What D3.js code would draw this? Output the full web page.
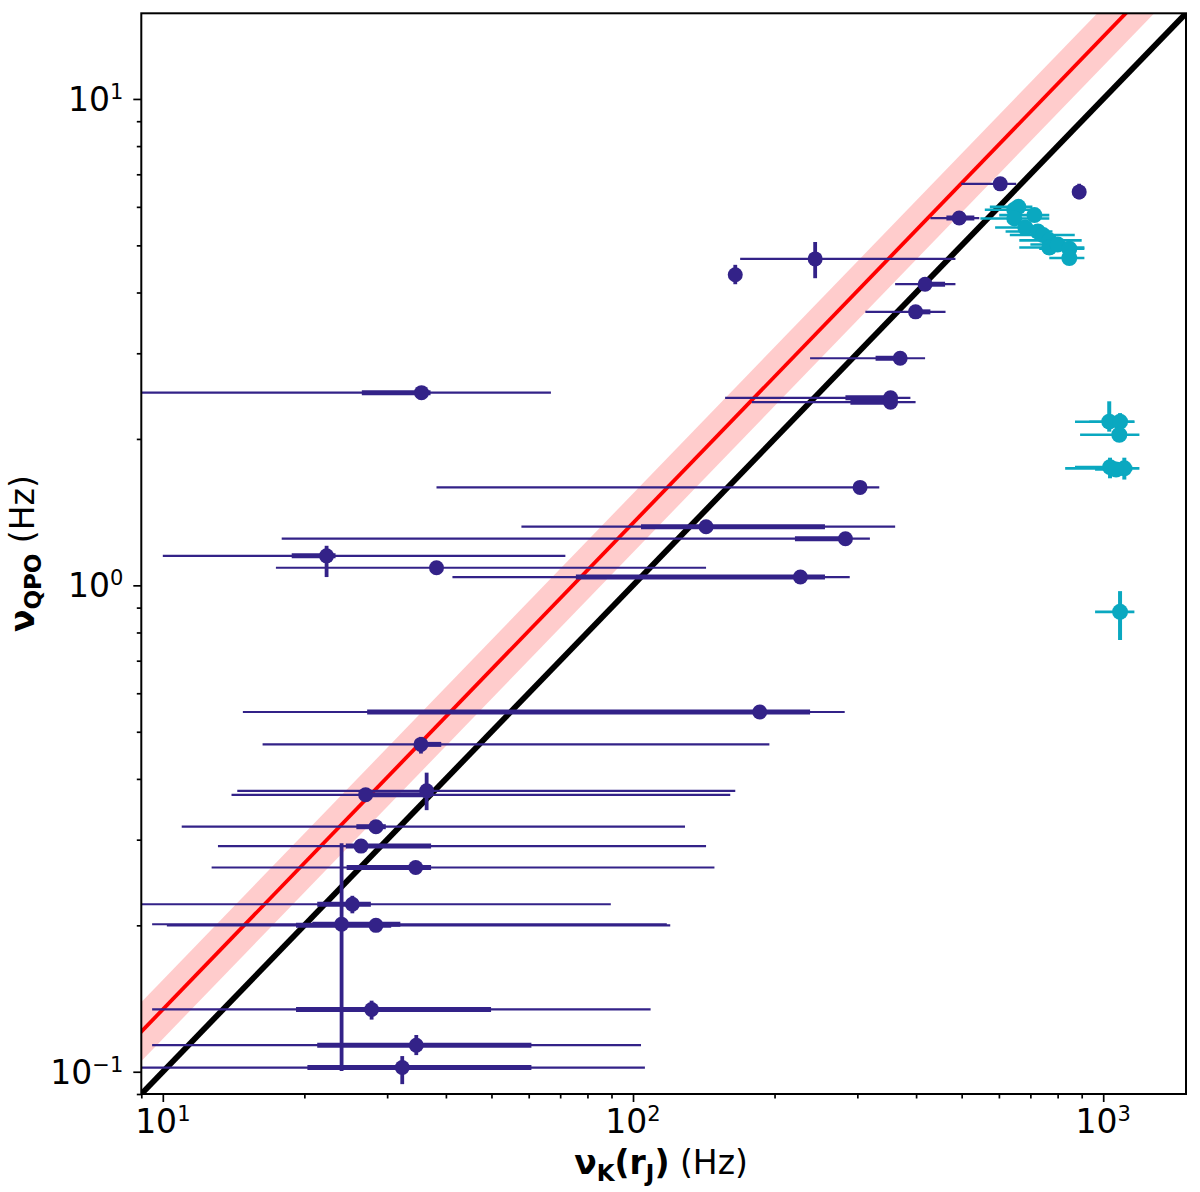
<!DOCTYPE html>
<html>
<head>
<meta charset="utf-8">
<script src="https://cdn.jsdelivr.net/npm/d3@7"></script>
<style>
  html,body{margin:0;padding:0;background:#fff;}
  text{font-family:"DejaVu Sans",sans-serif;}
</style>
</head>
<body>
<svg id="chart" width="1200" height="1192"></svg>
<script>
// ---------- DATA ----------
// Dark (navy) series
const darkX      = [604, 889, 494, 244, 165, 418, 399, 370, 353, 353, 35.5, 304, 143, 283, 22.3, 38.2, 227, 186, 35.4, 36.4, 27.0, 28.4, 26.4, 34.5, 25.3, 24.0, 28.4, 27.8, 34.6, 32.3];
const darkY      = [6.69, 6.44, 5.69, 4.69, 4.35, 4.16, 3.65, 2.93, 2.43, 2.38, 2.49, 1.59, 1.32, 1.247, 1.15, 1.087, 1.04, 0.549, 0.471, 0.378, 0.371, 0.319, 0.291, 0.263, 0.221, 0.201, 0.200, 0.1343, 0.1134, 0.102];
const darkXLo    = [499, null, 429, 169, null, 361, 312, 238, 157, 179, 8.5, 38.2, 57.9, 17.9, 10.0, 17.4, 41.3, 14.8, 16.3, 14.4, 14.0, 10.97, 13.1, 12.7, 8.5, 9.49, 10.2, 9.49, 9.49, 8.5];
const darkXHi    = [653, null, 545, 485, null, 485, 462, 418, 389, 399, 66.9, 334, 361, 319, 71.8, 143, 289, 282, 195, 165, 161, 129, 143, 149, 89.7, 118, 120, 109, 104, 106];
const darkXLoSys = [null, null, 464, null, null, 418, 399, 328, 283, 290, 26.5, null, 104, 221, 18.8, null, 75.6, 27.2, 34.5, null, 27.0, 25.8, 24.5, 24.6, 21.3, 20.8, 19.2, 19.2, 21.3, 20.3];
const darkXHiSys = [null, null, 532, null, null, 461, 429, 370, 353, 353, 37.1, null, 256, 283, 23.3, null, 256, 238, 39.1, null, 36.4, 29.8, 37.2, 37.2, 27.7, 32.0, 30.6, 49.9, 60.8, 60.8];
const darkYLo    = [null, 6.22, null, 4.28, 4.16, null, null, null, null, null, null, null, null, null, 1.04, null, null, null, 0.451, 0.345, null, null, null, null, 0.2117, 0.1004, null, 0.128, 0.1082, 0.0943];
const darkYHi    = [null, 6.69, null, 5.08, 4.56, null, null, null, null, null, null, null, null, null, 1.206, null, null, null, 0.488, 0.412, null, null, null, null, 0.230, 0.295, null, 0.140, 0.119, 0.1077];

// Cyan series
const cyanX   = [660, 647, 714, 647, 683, 726, 745, 768, 768, 800, 847, 847, 1030, 1086, 1082, 1034, 1109, 1065, 1086];
const cyanY   = [6.00, 5.92, 5.77, 5.68, 5.44, 5.34, 5.25, 5.12, 4.95, 5.02, 4.92, 4.71, 2.17, 2.17, 2.04, 1.75, 1.74, 1.73, 0.882];
const cyanXLo = [574, 560, 601, 548, 589, 620, 633, 663, 663, 700, 731, 768, 871, 934, 893, 871, 830, 961, 961];
const cyanXHi = [707, 700, 768, 768, 720, 780, 870, 900, 912, 850, 912, 912, 1165, 1165, 1194, 1153, 1194, 1153, 1165];
const cyanYLo = [5.86, 5.78, 5.64, 5.55, 5.32, 5.22, 5.13, 5.00, 4.84, 4.90, 4.81, 4.61, 2.07, 2.09, 1.99, 1.66, 1.65, 1.69, 0.772];
const cyanYHi = [6.14, 6.06, 5.90, 5.81, 5.56, 5.46, 5.37, 5.24, 5.06, 5.14, 5.03, 4.81, 2.39, 2.26, 2.09, 1.83, 1.83, 1.77, 0.973];

// Reference relations
const oneToOneFactor = 0.01;      // nu_QPO = nu_K / 100 (black)
const fitFactor = 0.01343;        // red line
const bandLo = 0.87, bandHi = 1.15; // pink band multipliers

// Axes
const xDomain = [9, 1500];
const yDomain = [0.09, 15];
const xMajor = [10, 100, 1000];
const xMinor = [9, 20, 30, 40, 50, 60, 70, 80, 90, 200, 300, 400, 500, 600, 700, 800, 900];
const yMajor = [0.1, 1, 10];
const yMinor = [0.09, 0.2, 0.3, 0.4, 0.5, 0.6, 0.7, 0.8, 0.9, 2, 3, 4, 5, 6, 7, 8, 9];
const xTickExp = ["1", "2", "3"];
const yTickExp = ["\u22121", "0", "1"];

// ---------- DRAW ----------
const L = 141.3, R = 1186, T = 13.3, B = 1094;
const navy = "#332288", cyan = "#0aa8c0";
const svg = d3.select("#chart");
const x = d3.scaleLog().domain(xDomain).range([L, R]);
const y = d3.scaleLog().domain(yDomain).range([B, T]);

svg.append("defs").append("clipPath").attr("id", "clip")
  .append("rect").attr("x", L).attr("y", T).attr("width", R - L).attr("height", B - T);

const plot = svg.append("g").attr("clip-path", "url(#clip)");

// band
const xs = [xDomain[0] * 0.8, xDomain[1] * 1.2];
const bandPts = [
  [x(xs[0]), y(xs[0] * fitFactor * bandHi)],
  [x(xs[1]), y(xs[1] * fitFactor * bandHi)],
  [x(xs[1]), y(xs[1] * fitFactor * bandLo)],
  [x(xs[0]), y(xs[0] * fitFactor * bandLo)]
];
plot.append("path").attr("d", d3.line()(bandPts) + "Z").attr("fill", "#ffcccc");
plot.append("path").attr("d", d3.line()(xs.map(v => [x(v), y(v * fitFactor)])))
  .attr("stroke", "#ff0000").attr("stroke-width", 3.8).attr("fill", "none");
plot.append("path").attr("d", d3.line()(xs.map(v => [x(v), y(v * oneToOneFactor)])))
  .attr("stroke", "#000").attr("stroke-width", 5.8).attr("fill", "none");

// navy error bars
const dIdx = d3.range(darkX.length);
plot.append("g").selectAll("line").data(dIdx.filter(i => darkXLo[i] != null)).join("line")
  .attr("x1", i => x(darkXLo[i])).attr("x2", i => x(darkXHi[i]))
  .attr("y1", i => y(darkY[i])).attr("y2", i => y(darkY[i]))
  .attr("stroke", navy).attr("stroke-width", 2.2);
plot.append("g").selectAll("line").data(dIdx.filter(i => darkXLoSys[i] != null)).join("line")
  .attr("x1", i => x(darkXLoSys[i])).attr("x2", i => x(darkXHiSys[i]))
  .attr("y1", i => y(darkY[i])).attr("y2", i => y(darkY[i]))
  .attr("stroke", navy).attr("stroke-width", 5);
plot.append("g").selectAll("line").data(dIdx.filter(i => darkYLo[i] != null)).join("line")
  .attr("x1", i => x(darkX[i])).attr("x2", i => x(darkX[i]))
  .attr("y1", i => y(darkYLo[i])).attr("y2", i => y(darkYHi[i]))
  .attr("stroke", navy).attr("stroke-width", 3.8);
plot.append("g").selectAll("circle").data(dIdx).join("circle")
  .attr("cx", i => x(darkX[i])).attr("cy", i => y(darkY[i])).attr("r", 7.5)
  .attr("fill", navy);

// cyan
const cIdx = d3.range(cyanX.length);
plot.append("g").selectAll("line").data(cIdx).join("line")
  .attr("x1", i => x(cyanXLo[i])).attr("x2", i => x(cyanXHi[i]))
  .attr("y1", i => y(cyanY[i])).attr("y2", i => y(cyanY[i]))
  .attr("stroke", cyan).attr("stroke-width", 2.6);
plot.append("g").selectAll("line").data(cIdx).join("line")
  .attr("x1", i => x(cyanX[i])).attr("x2", i => x(cyanX[i]))
  .attr("y1", i => y(cyanYLo[i])).attr("y2", i => y(cyanYHi[i]))
  .attr("stroke", cyan).attr("stroke-width", 4);
plot.append("g").selectAll("circle").data(cIdx).join("circle")
  .attr("cx", i => x(cyanX[i])).attr("cy", i => y(cyanY[i])).attr("r", 8)
  .attr("fill", cyan);

// axes ticks
function ticks(axisGen, vals, size, transform) {
  const g = svg.append("g").attr("transform", transform)
    .call(axisGen.tickValues(vals).tickSize(size).tickFormat(""));
  g.select(".domain").remove();
  g.selectAll(".tick line").attr("stroke", "#000").attr("stroke-width", 1.7);
}
ticks(d3.axisBottom(x), xMajor, 8, `translate(0,${B})`);
ticks(d3.axisBottom(x), xMinor, 4.5, `translate(0,${B})`);
ticks(d3.axisLeft(y), yMajor, 8, `translate(${L},0)`);
ticks(d3.axisLeft(y), yMinor, 4.5, `translate(${L},0)`);

// tick labels
xMajor.forEach((v, k) => {
  const t = svg.append("text").attr("x", x(v)).attr("y", B + 39)
    .attr("text-anchor", "middle").attr("font-size", 33);
  t.append("tspan").text("10");
  t.append("tspan").attr("font-size", 21).attr("dy", -12).text(xTickExp[k]);
});
yMajor.forEach((v, k) => {
  const t = svg.append("text").attr("x", L - 18).attr("y", y(v) + 12)
    .attr("text-anchor", "end").attr("font-size", 33);
  t.append("tspan").text("10");
  t.append("tspan").attr("font-size", 21).attr("dy", -12).text(yTickExp[k]);
});

// axis labels
const xl = svg.append("text").attr("x", 661).attr("y", 1174)
  .attr("text-anchor", "middle").attr("font-size", 33);
xl.append("tspan").attr("font-weight", "bold").text("\u03BD");
xl.append("tspan").attr("font-weight", "bold").attr("font-size", 23).attr("dy", 7).text("K");
xl.append("tspan").attr("font-weight", "bold").attr("dy", -7).text("(r");
xl.append("tspan").attr("font-weight", "bold").attr("font-size", 23).attr("dy", 7).text("J");
xl.append("tspan").attr("font-weight", "bold").attr("dy", -7).text(")");
xl.append("tspan").text(" (Hz)");

const yl = svg.append("text").attr("transform", `translate(34,${(T + B) / 2}) rotate(-90)`)
  .attr("text-anchor", "middle").attr("font-size", 33);
yl.append("tspan").attr("font-weight", "bold").text("\u03BD");
yl.append("tspan").attr("font-weight", "bold").attr("font-size", 23).attr("dy", 7).text("QPO");
yl.append("tspan").attr("dy", -7).text(" (Hz)");

// frame
svg.append("rect").attr("x", L).attr("y", T).attr("width", R - L).attr("height", B - T)
  .attr("fill", "none").attr("stroke", "#000").attr("stroke-width", 2);
</script>
</body>
</html>
